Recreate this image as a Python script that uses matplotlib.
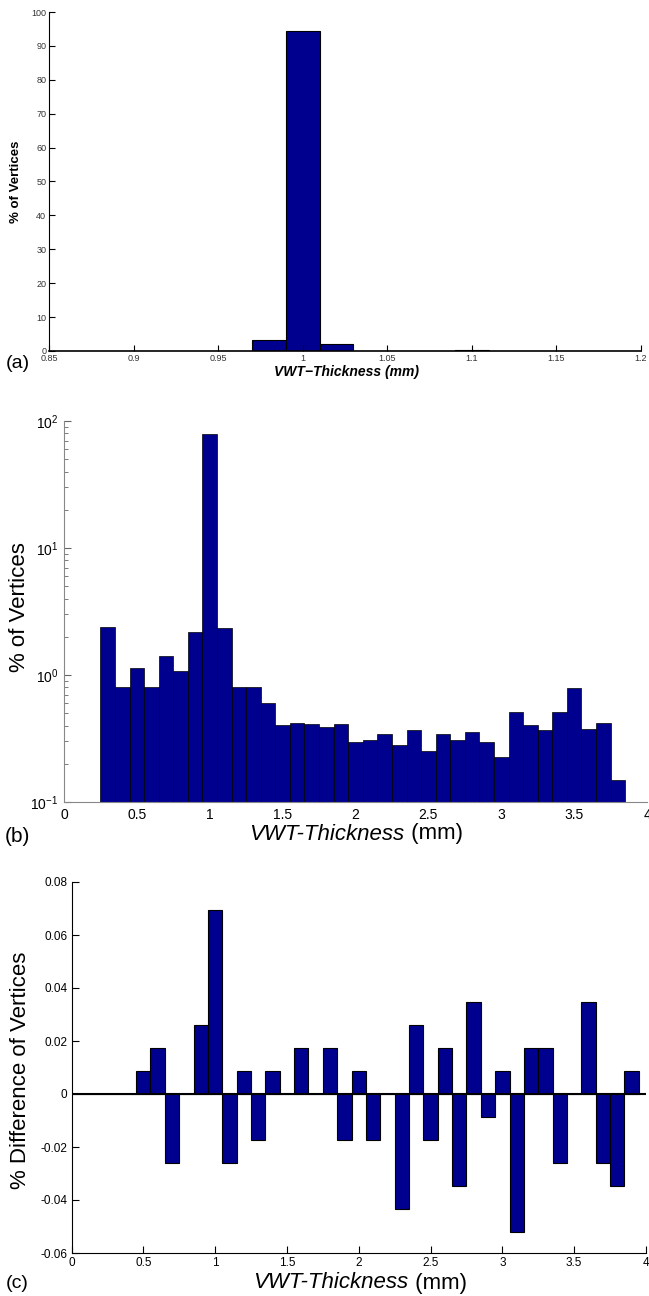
import matplotlib
matplotlib.use("Agg")
import matplotlib.pyplot as plt
import numpy as np

plt.rcParams['font.family'] = ['Liberation Sans', 'DejaVu Sans']
plt.rcParams['axes.unicode_minus'] = False

BAR = '#00008f'

# (a) narrow histogram, bins of 0.02 mm
a_centers = [0.96, 0.98, 1.00, 1.02, 1.04, 1.06, 1.08, 1.10]
a_pct = [0.1, 3.25, 94.5, 2.2, 0.1, 0.1, 0.1, 0.2]
a_xticks = [0.85, 0.9, 0.95, 1, 1.05, 1.1, 1.15, 1.2]
a_xlabels = ['0.85', '0.9', '0.95', '1', '1.05', '1.1', '1.15', '1.2']

# (b) full histogram, bins of 0.1 mm, log scale
b_centers = [0.3, 0.4, 0.5, 0.6, 0.7, 0.8, 0.9, 1.0, 1.1, 1.2, 1.3, 1.4,
             1.5, 1.6, 1.7, 1.8, 1.9, 2.0, 2.1, 2.2, 2.3, 2.4, 2.5, 2.6,
             2.7, 2.8, 2.9, 3.0, 3.1, 3.2, 3.3, 3.4, 3.5, 3.6, 3.7, 3.8]
b_pct = [2.38, 0.81, 1.14, 0.81, 1.40, 1.07, 2.2, 78.9, 2.34, 0.80, 0.80, 0.605,
         0.405, 0.42, 0.415, 0.389, 0.413, 0.296, 0.309, 0.344, 0.282, 0.366, 0.253, 0.344,
         0.309, 0.357, 0.296, 0.226, 0.507, 0.405, 0.368, 0.507, 0.794, 0.377, 0.42, 0.15]
b_xticks = [0, 0.5, 1, 1.5, 2, 2.5, 3, 3.5, 4]
b_xlabels = ['0', '0.5', '1', '1.5', '2', '2.5', '3', '3.5', '4']

# (c) difference histogram
c_centers = [0.1, 0.2, 0.3, 0.4, 0.5, 0.6, 0.7, 0.8, 0.9, 1.0, 1.1, 1.2, 1.3, 1.4,
             1.5, 1.6, 1.7, 1.8, 1.9, 2.0, 2.1, 2.2, 2.3, 2.4, 2.5, 2.6, 2.7, 2.8,
             2.9, 3.0, 3.1, 3.2, 3.3, 3.4, 3.5, 3.6, 3.7, 3.8, 3.9]
c_diff = [0, 0, 0, 0, 0.0087, 0.0174, -0.026, 0, 0.026, 0.0696, -0.026, 0.0087, -0.0174, 0.0087,
          0, 0.0174, 0, 0.0174, -0.0174, 0.0087, -0.0174, 0, -0.0435, 0.026, -0.0174, 0.0174, -0.0348, 0.0348,
          -0.0087, 0.0087, -0.052, 0.0174, 0.0174, -0.026, 0, 0.0348, -0.026, -0.0348, 0.0087]
c_yticks = [-0.06, -0.04, -0.02, 0, 0.02, 0.04, 0.06, 0.08]
c_ylabels = ['-0.06', '-0.04', '-0.02', '0', '0.02', '0.04', '0.06', '0.08']

W, H = 649, 1296
fig = plt.figure(figsize=(W / 100, H / 100), dpi=100)


def box(l, t, r, b):
    return [l / W, 1 - b / H, (r - l) / W, (b - t) / H]


def mixed_label(x, y, size):
    # italic "VWT-Thickness" followed by regular " (mm)", centred on x
    t1 = fig.text(0, 1 - y / H, 'VWT-Thickness', style='italic', fontsize=size, va='center')
    t2 = fig.text(0, 1 - y / H, ' (mm)', fontsize=size, va='center')
    r = fig.canvas.get_renderer()
    w1 = t1.get_window_extent(r).width
    w2 = t2.get_window_extent(r).width
    x0 = x - (w1 + w2) / 2
    t1.set_x(x0 / W)
    t2.set_x((x0 + w1) / W)


# ---- (a)
ax = fig.add_axes(box(49, 12, 641, 351))
ax.bar(a_centers, a_pct, width=0.02, color=BAR, edgecolor='black', linewidth=0.8)
ax.set_xlim(0.85, 1.2)
ax.set_ylim(0, 100)
ax.set_xticks(a_xticks)
ax.set_xticklabels(a_xlabels)
ax.set_yticks(range(0, 101, 10))
ax.tick_params(direction='in', length=4, labelsize=6.5, labelcolor='#333333', pad=2)
for s in ['top', 'right']:
    ax.spines[s].set_visible(False)
ax.spines['bottom'].set_linewidth(1.2)
fig.text(16.5 / W, 1 - 182 / H, '% of Vertices', rotation=90, fontsize=9.5,
         fontweight='bold', ha='center', va='center')
fig.text(347 / W, 1 - 372 / H, 'VWT\u2212Thickness (mm)', fontsize=10, fontweight='bold',
         style='italic', ha='center', va='center')
fig.text(6 / W, 1 - 363 / H, '(a)', fontsize=14, va='center')

# ---- (b)
ax = fig.add_axes(box(64, 421, 647, 802))
ax.bar(b_centers, b_pct, width=0.1, color=BAR, edgecolor='black', linewidth=0.5)
ax.set_yscale('log')
ax.set_ylim(0.1, 100)
ax.set_xlim(0, 4)
ax.set_xticks(b_xticks)
ax.set_xticklabels(b_xlabels)
ax.tick_params(which='major', direction='in', length=5, labelsize=10, pad=4, color='#666666')
ax.tick_params(which='minor', direction='in', length=3, color='#666666')
ax.tick_params(axis='x', length=0)
for s in ['top', 'right']:
    ax.spines[s].set_visible(False)
for s in ['left', 'bottom']:
    ax.spines[s].set_color('#888888')
fig.text(20 / W, 1 - 607 / H, '% of Vertices', rotation=90, fontsize=16,
         ha='center', va='center')
mixed_label(356, 834, 16)
fig.text(5 / W, 1 - 836 / H, '(b)', fontsize=15, va='center')

# ---- (c)
ax = fig.add_axes(box(71.5, 882, 646, 1253))
ax.bar(c_centers, c_diff, width=0.1, color=BAR, edgecolor='black', linewidth=0.8)
ax.axhline(0, color='black', linewidth=1.5)
ax.set_xlim(0, 4)
ax.set_ylim(-0.06, 0.08)
ax.set_xticks(b_xticks)
ax.set_xticklabels(b_xlabels)
ax.set_yticks(c_yticks)
ax.set_yticklabels(c_ylabels)
ax.tick_params(direction='in', length=5, labelsize=8.5, pad=3)
for s in ['top', 'right']:
    ax.spines[s].set_visible(False)
fig.text(21 / W, 1 - 1070 / H, '% Difference of Vertices', rotation=90, fontsize=16,
         ha='center', va='center')
mixed_label(360, 1283, 16)
fig.text(6 / W, 1 - 1284 / H, '(c)', fontsize=14, va='center')

fig.savefig('out.png', dpi=100)
